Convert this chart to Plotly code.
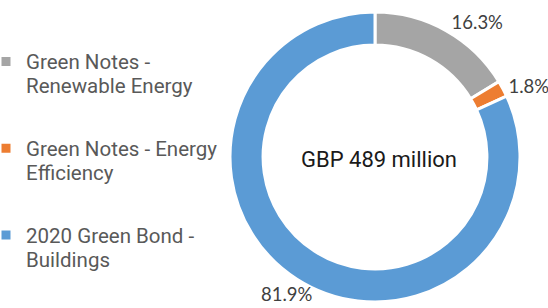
import math
import plotly.graph_objects as go

# Data (GBP million)
categories = ["Green Notes - Renewable Energy", "Green Notes - Energy Efficiency", "2020 Green Bond - Buildings"]
legend_lines = [["Green Notes -", "Renewable Energy"], ["Green Notes - Energy", "Efficiency"], ["2020 Green Bond -", "Buildings"]]
values = [79.7, 8.8, 400.5]
colors = ["#A5A5A5", "#ED7D31", "#5B9BD5"]

W, H = 548, 308
total = sum(values)
CX, CY, R = 375, 157, 145  # pie centre / radius in pixels (layout)

# Legend text: small base font gives a fine line grid; visible lines use 20.5px spans.
BLANK = "\u00a0"
def legend_text(lines):
    rows = [BLANK] * 14
    rows[1] = f'<span style="font-size:20.5px">{lines[0]}</span>'
    rows[5] = f'<span style="font-size:20.5px">{lines[1]}</span>'
    return "<br>".join(rows)

labels = [legend_text(l) for l in legend_lines]
pct_font = dict(family="Lato", size=18.5, color="#404040")

fig = go.Figure(go.Pie(
    labels=labels,
    values=values,
    sort=False,
    direction="clockwise",
    rotation=0,
    hole=0.772,
    marker=dict(colors=colors, line=dict(color="white", width=3)),
    textinfo="percent",
    texttemplate="%{percent:.1%}",
    textposition=["outside", "outside", "none"],
    outsidetextfont=pct_font,
    domain=dict(x=[(CX - R) / W, (CX + R) / W], y=[1 - (CY + R) / H, 1 - (CY - R) / H]),
    hoverinfo="value+percent",
))

# Label for the large slice: placed radially at its mid angle
cum = sum(values[:2])
mid = (cum + values[2] / 2) / total * 2 * math.pi
r_lab = 163
fig.add_annotation(
    text=f"{values[2] / total * 100:.1f}%",
    x=(CX + r_lab * math.sin(mid)) / W, y=1 - (CY - r_lab * math.cos(mid)) / H,
    xref="paper", yref="paper", xanchor="center", yanchor="middle",
    showarrow=False, font=pct_font,
)

fig.add_annotation(
    text=f"GBP {round(total)} million",
    x=379 / W, y=1 - 160 / H, xref="paper", yref="paper",
    xanchor="center", yanchor="middle",
    showarrow=False,
    font=dict(family="Roboto", size=22, color="#1a1a1a"),
)

fig.update_layout(
    width=W, height=H,
    margin=dict(l=0, r=0, t=0, b=0, autoexpand=False),
    paper_bgcolor="white",
    plot_bgcolor="white",
    showlegend=True,
    legend=dict(
        x=-14 / W, y=1 - 52 / H, xanchor="left", yanchor="top",
        font=dict(family="Roboto", size=4.6, color="#595959"),
        valign="top",
        bgcolor="rgba(0,0,0,0)",
    ),
    font=dict(family="Roboto"),
)

fig.write_html("out.html", config={"displayModeBar": False},
               post_script="document.body.style.margin='0';")
